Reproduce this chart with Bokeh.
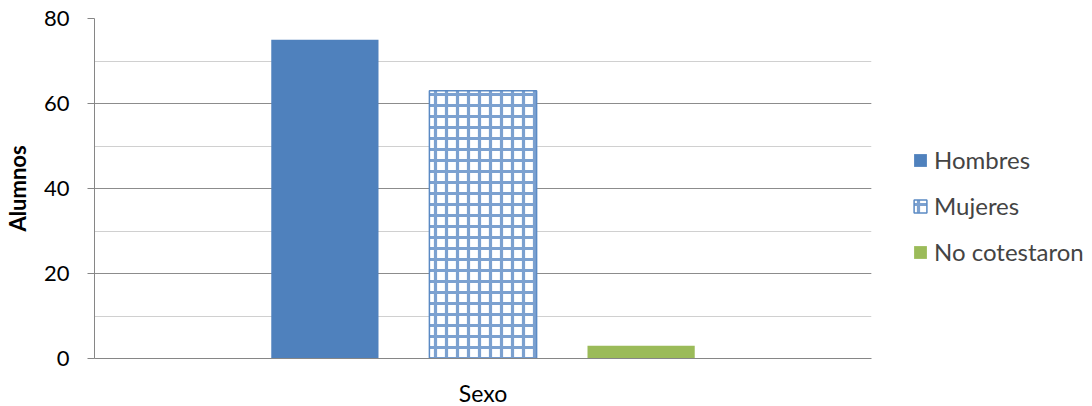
from bokeh.plotting import figure
from bokeh.models import (ColumnDataSource, FactorRange, Range1d, Legend, LegendItem,
                          SingleIntervalTicker)
from bokeh.transform import dodge
from bokeh.embed import file_html
from bokeh.resources import INLINE

# Survey responses by sex
group = ["Sexo"]
series = ["Hombres", "Mujeres", "No cotestaron"]
values = [75, 63, 3]
colors = ["#4F81BD", "#FFFFFF", "#9BBB59"]

FONT = "Lato"

p = figure(frame_width=777, frame_height=340, x_range=FactorRange(*group, range_padding=0),
           y_range=Range1d(0, 80), output_backend="svg", toolbar_location=None,
           min_border_left=93, min_border_right=0, min_border_top=18,
           min_border_bottom=48)
p.outline_line_color = None
p.background_fill_color = "white"

offsets = [-0.2035, 0.0, 0.2035]
bar_w = 0.138
renderers = []
for name, val, col, off in zip(series, values, colors, offsets):
    src = ColumnDataSource(dict(x=group, top=[val]))
    if name == "Mujeres":
        r = p.vbar(x=dodge("x", off, range=p.x_range), top="top", width=bar_w, source=src,
                   fill_color="white", line_color="#5B8AC4", line_width=1.5,
                   hatch_pattern="+", hatch_color="#5B8AC4", hatch_scale=11,
                   hatch_weight=3.2, hatch_alpha=0.8)
    else:
        r = p.vbar(x=dodge("x", off, range=p.x_range), top="top", width=bar_w, source=src,
                   fill_color=col, line_color=None)
    renderers.append(r)

# Axes
p.yaxis.ticker = SingleIntervalTicker(interval=20, num_minor_ticks=2)
p.yaxis.axis_line_color = "#868686"
p.yaxis.major_tick_line_color = "#868686"
p.yaxis.major_tick_out = 7
p.yaxis.major_tick_in = 0
p.yaxis.minor_tick_line_color = None
p.yaxis.major_label_text_font = FONT
p.yaxis.major_label_text_font_size = "22px"
p.yaxis.major_label_text_color = "#000000"
p.yaxis.major_label_standoff = 18
p.yaxis.axis_label = "Alumnos"
p.yaxis.axis_label_text_font = FONT
p.yaxis.axis_label_text_font_style = "bold"
p.yaxis.axis_label_text_font_size = "22px"
p.yaxis.axis_label_text_color = "#000000"
p.yaxis.axis_label_standoff = 10

p.xaxis.axis_line_color = "#868686"
p.xaxis.major_tick_line_color = None
p.xaxis.minor_tick_line_color = None
p.xaxis.major_label_text_font = FONT
p.xaxis.major_label_text_font_size = "23px"
p.xaxis.major_label_text_color = "#000000"
p.xaxis.major_label_standoff = 14

# Grid
p.xgrid.grid_line_color = None
p.ygrid.grid_line_color = "#8C8C8C"
p.ygrid.grid_line_width = 1
p.ygrid.minor_grid_line_color = "#D0D0D0"
p.ygrid.level = "underlay"

legend = Legend(items=[LegendItem(label=s, renderers=[r]) for s, r in zip(series, renderers)],
                location=(41, 92), orientation="vertical",
                label_text_font=FONT, label_text_font_size="24px",
                glyph_width=16, glyph_height=16, spacing=17, padding=0, margin=0,
                label_standoff=6, border_line_color=None, background_fill_alpha=0)
p.add_layout(legend, "right")

open("out.html", "w").write(file_html(p, INLINE))
